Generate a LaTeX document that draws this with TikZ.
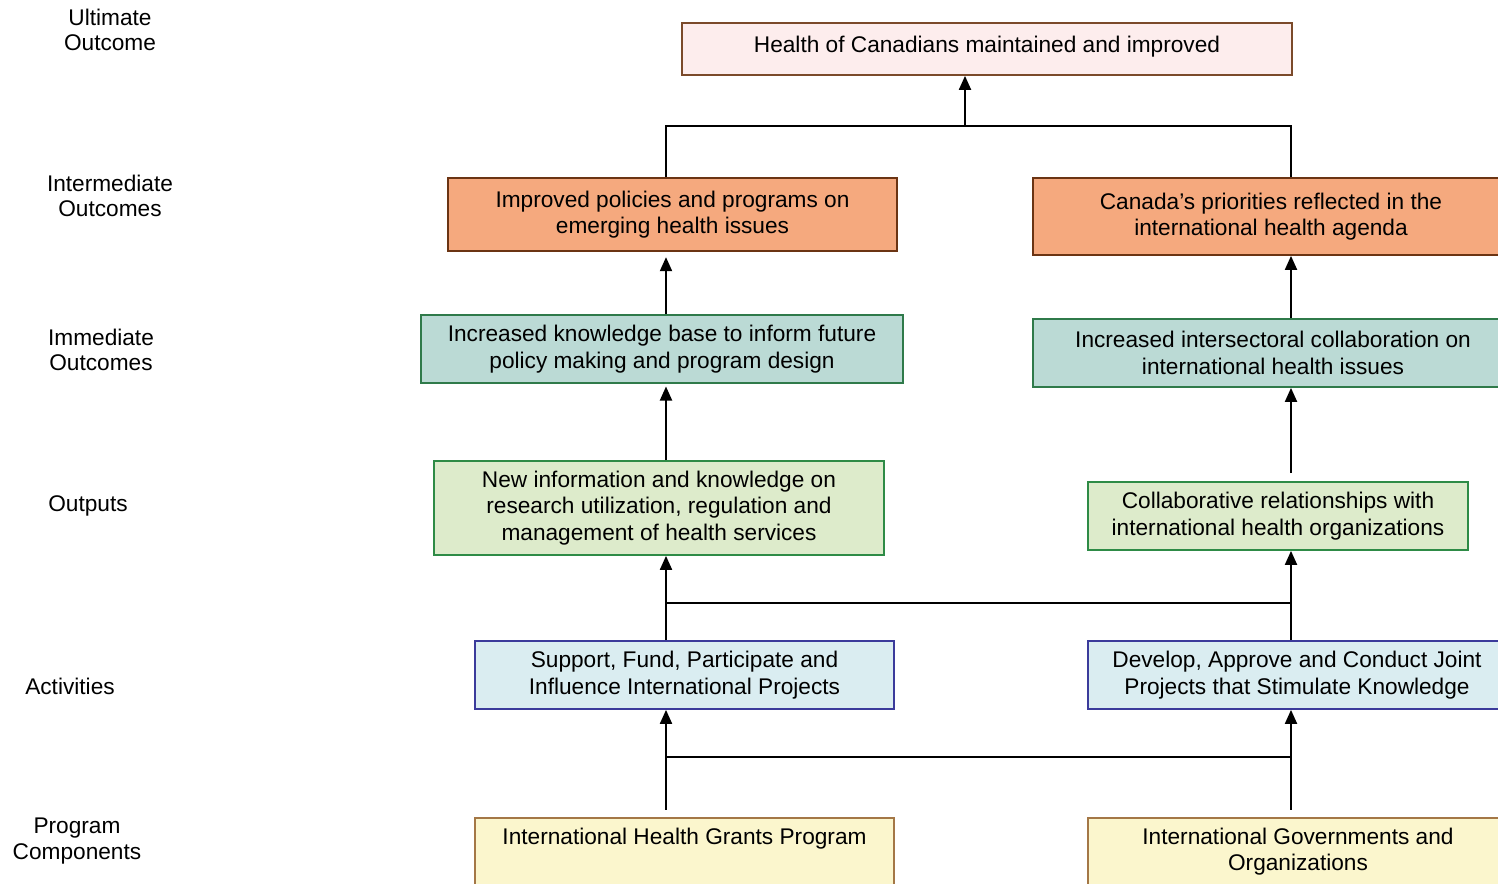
\documentclass[tikz,border=0pt]{standalone}
\usepackage{fontspec}
\setmainfont{Liberation Sans}
\usetikzlibrary{arrows.meta,calc}
\definecolor{ultF}{HTML}{FDEDED}
\definecolor{ultD}{HTML}{7B4A2A}
\definecolor{intF}{HTML}{F5A97E}
\definecolor{intD}{HTML}{6B3413}
\definecolor{immF}{HTML}{BBDAD5}
\definecolor{immD}{HTML}{2F7A4A}
\definecolor{outF}{HTML}{DDEBCB}
\definecolor{outD}{HTML}{2E8B46}
\definecolor{actF}{HTML}{DAEDF1}
\definecolor{actD}{HTML}{3B3B9B}
\definecolor{prgF}{HTML}{FBF6CD}
\definecolor{prgD}{HTML}{A47746}

\begin{document}
\begin{tikzpicture}[x=0.02cm, y=-0.02cm,
 box/.style={draw, line width=1pt, align=center, inner sep=0pt,
             font=\fontsize{12.9}{15}\selectfont},
 prg/.style={box, fill=prgF, draw=prgD, anchor=north, text height=0.54cm, text depth=1.5cm},
 lbl/.style={align=center, font=\fontsize{12.9}{14.6}\selectfont},
 ln/.style={line width=1.1pt},
 ar/.style={ln, -{Triangle[length=2.8mm, width=2.4mm]}},
]
 \useasboundingbox (0,0) rectangle (1498,883);
 \clip (0,0) rectangle (1498,883);

 % level captions
 \node[lbl] (capUlt) at (110,30) {Ultimate\\Outcome};
 \node[lbl] (capInt) at (110,196) {Intermediate\\Outcomes};
 \node[lbl] (capImm) at (101,350) {Immediate\\Outcomes};
 \node[lbl] (capOut) at (88,506) {Outputs};
 \node[lbl] (capAct) at (70,686) {Activities};
 \node[lbl] (capPrg) at (77,841) {Program\\Components};

 % boxes
 \node[box, fill=ultF, draw=ultD, minimum width=12.2cm, minimum height=1.04cm, text depth=0.2cm] (ult) at (987,49)
   {Health of Canadians maintained and improved};
 \node[box, fill=intF, draw=intD, minimum width=8.98cm, minimum height=1.46cm] (intL) at (672.5,214.5)
   {Improved policies and programs on\\emerging health issues};
 \node[box, fill=intF, draw=intD, minimum width=9.52cm, minimum height=1.54cm] (intR) at (1271,216.5)
   {Canada's priorities reflected in the\\international health agenda};
 \node[box, fill=immF, draw=immD, minimum width=9.64cm, minimum height=1.36cm] (immL) at (662,349)
   {Increased knowledge base to inform future\\policy making and program design};
 \node[box, fill=immF, draw=immD, minimum width=9.6cm, minimum height=1.36cm] (immR) at (1273,353)
   {Increased intersectoral collaboration on\\international health issues};
 \node[box, fill=outF, draw=outD, minimum width=9cm, minimum height=1.88cm] (outL) at (659,508)
   {New information and knowledge on\\research utilization, regulation and\\management of health services};
 \node[box, fill=outF, draw=outD, minimum width=7.6cm, minimum height=1.36cm] (outR) at (1278,516)
   {Collaborative relationships with\\international health organizations};
 \node[box, fill=actF, draw=actD, minimum width=8.38cm, minimum height=1.36cm] (actL) at (684.5,675)
   {Support, Fund, Participate and\\Influence International Projects};
 \node[box, fill=actF, draw=actD, minimum width=8.36cm, minimum height=1.36cm] (actR) at (1297,675)
   {Develop, Approve and Conduct Joint\\Projects that Stimulate Knowledge};
 \node[prg, minimum width=8.38cm] (prgL) at (684.5,817) {International Health Grants Program};
 \node[prg, minimum width=8.4cm, text height=1.06cm, text depth=1cm] (prgR) at (1298,817)
   {International Governments and\\Organizations};

 % connector columns and joins
 \coordinate (xl) at (666,0);
 \coordinate (xr) at (1291,0);
 \coordinate (jTop) at (965,126);
 \coordinate (jAct) at (0,603);
 \coordinate (jPrg) at (0,757);

 \draw[ln] (intL.north -| xl) -- (xl |- jTop) -- (xr |- jTop) -- (intR.north -| xr);
 \draw[ar] (jTop) -- (ult.south -| jTop);
 \draw[ar, shorten >=3pt] (immL.north -| xl) -- (intL.south -| xl);
 \draw[ar] (immR.north -| xr) -- (intR.south -| xr);
 \draw[ar, shorten >=1.5pt] (outL.north -| xl) -- (immL.south -| xl);
 \draw[ar, shorten <=4.5pt] (outR.north -| xr) -- (immR.south -| xr);
 \draw[ar] (actL.north -| xl) -- (outL.south -| xl);
 \draw[ar] (actR.north -| xr) -- (outR.south -| xr);
 \draw[ln] (xl |- jAct) -- (xr |- jAct);
 \draw[ar, shorten <=4pt] (prgL.north -| xl) -- (actL.south -| xl);
 \draw[ar, shorten <=4pt] (prgR.north -| xr) -- (actR.south -| xr);
 \draw[ln] (xl |- jPrg) -- (xr |- jPrg);
\end{tikzpicture}
\end{document}
